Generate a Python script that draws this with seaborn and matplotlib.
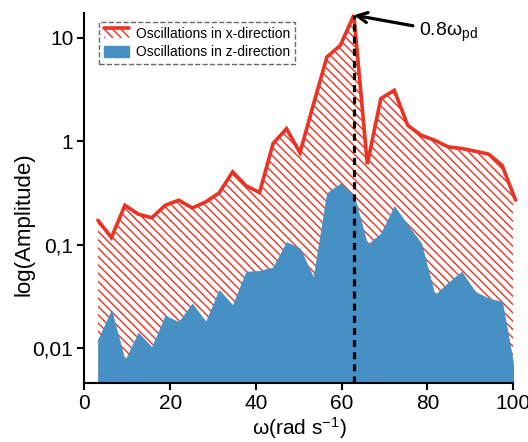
import numpy as np
import pandas as pd
import matplotlib
matplotlib.use("Agg")
import matplotlib.pyplot as plt
import seaborn as sns
from matplotlib.lines import Line2D
from matplotlib.patches import Patch, Rectangle
from matplotlib.legend_handler import HandlerBase
from matplotlib.ticker import NullLocator

# data, omega = k*pi
k = np.arange(1, 33)
omega = k * np.pi
amp_x = [0.172, 0.117, 0.240, 0.197, 0.182, 0.240, 0.269, 0.226, 0.259, 0.316,
         0.505, 0.370, 0.319, 0.948, 1.32, 0.773, 2.27, 6.5, 8.43, 16.5,
         0.60, 2.58, 3.10, 1.42, 1.14, 1.02, 0.88, 0.85, 0.80, 0.75,
         0.585, 0.27]
amp_z = [0.012, 0.0233, 0.00755, 0.0141, 0.0102, 0.0206, 0.0179, 0.0270, 0.018, 0.0364,
         0.026, 0.0547, 0.0560, 0.0603, 0.106, 0.0918, 0.0479, 0.316, 0.389, 0.30,
         0.100, 0.128, 0.235, 0.154, 0.103, 0.0326, 0.0428, 0.0547, 0.0351, 0.0303,
         0.0281, 0.0054]
ytick_vals = [0.01, 0.1, 1, 10]
ytick_labels = ["0,01", "0,1", "1", "10"]
xtick_vals = [0, 20, 40, 60, 80, 100]
omega_pd = 0.8 * 78.54  # marked frequency (20*pi)

df = pd.DataFrame({"omega": omega, "x": amp_x, "z": amp_z})

red = "#ea3323"
blue = "#4690c4"
HATCH = "\\\\\\\\"

sns.set_style("ticks")
plt.rcParams["font.family"] = ["Liberation Sans", "DejaVu Sans"]
plt.rcParams["mathtext.fontset"] = "custom"
plt.rcParams["mathtext.rm"] = "Liberation Sans"
plt.rcParams["mathtext.it"] = "Liberation Sans"
plt.rcParams["hatch.linewidth"] = 1.0
for key in ["text.color", "axes.labelcolor", "xtick.color", "ytick.color"]:
    plt.rcParams[key] = "black"


class HatchWithTopLine(HandlerBase):
    # legend key: hatched box with the thick red line along its top
    def create_artists(self, legend, orig, xd, yd, w, h, fontsize, trans):
        r = Rectangle((-xd, -yd), w, h, facecolor="none", edgecolor=red,
                      hatch=HATCH, linewidth=0, transform=trans)
        l = Line2D([-xd, -xd + w], [-yd + h, -yd + h], color=red, lw=2.6,
                   transform=trans)
        return [r, l]


fig = plt.figure(figsize=(5.28, 4.42), dpi=100)
ax = fig.add_axes([0.160, 0.133, 0.812, 0.837])

ymin, ymax = 0.00459, 17.2

# hatched area under x-direction curve
ax.fill_between(df["omega"], df["x"], ymin, facecolor="none", edgecolor=red,
                hatch=HATCH, linewidth=0)
# z-direction filled area
ax.fill_between(df["omega"], df["z"], ymin, facecolor=blue, edgecolor=blue, linewidth=0.5)
# x-direction line
sns.lineplot(data=df, x="omega", y="x", color=red, linewidth=2.6, ax=ax, clip_on=False,
             solid_joinstyle="miter")

# marker line and annotation
ax.plot([omega_pd, omega_pd], [ymin, 16.5], color="black", lw=2.3, dashes=(2.2, 1.6))
ax.annotate("0.8ω$_{\\rm pd}$", xy=(omega_pd, 16.5), xytext=(78, 11.3),
            fontsize=14, ha="left", va="center",
            arrowprops=dict(arrowstyle="->", color="black", lw=2.3,
                            shrinkA=2, shrinkB=0, mutation_scale=18))

ax.set_yscale("log")
ax.set_xlim(0, 100)
ax.set_ylim(ymin, ymax)
ax.set_xticks(xtick_vals)
ax.set_yticks(ytick_vals)
ax.set_yticklabels(ytick_labels)
ax.yaxis.set_minor_locator(NullLocator())
ax.tick_params(labelsize=15, width=1.5, length=5, color="black", pad=3)
for s in ["left", "bottom"]:
    ax.spines[s].set_linewidth(1.5)
    ax.spines[s].set_color("black")
sns.despine(ax=ax)

ax.set_xlabel("ω(rad s$^{-1}$)", fontsize=15, labelpad=1)
ax.set_ylabel("log(Amplitude)", fontsize=16, labelpad=-1, y=0.43)

# legend
h_x = Patch(facecolor="none", edgecolor=red)
h_z = Patch(facecolor=blue, edgecolor=blue)
leg = ax.legend([h_x, h_z], ["Oscillations in x-direction", "Oscillations in z-direction"],
                handler_map={h_x: HatchWithTopLine()},
                loc="upper left", bbox_to_anchor=(0.035, 0.976), borderaxespad=0,
                fontsize=10, frameon=True, fancybox=False, handlelength=1.8,
                handleheight=0.8, handletextpad=0.5, labelspacing=0.3, borderpad=0.35)
frame = leg.get_frame()
frame.set_linestyle("--")
frame.set_edgecolor("#444444")
frame.set_linewidth(1.0)

fig.savefig("out.png", dpi=100)
